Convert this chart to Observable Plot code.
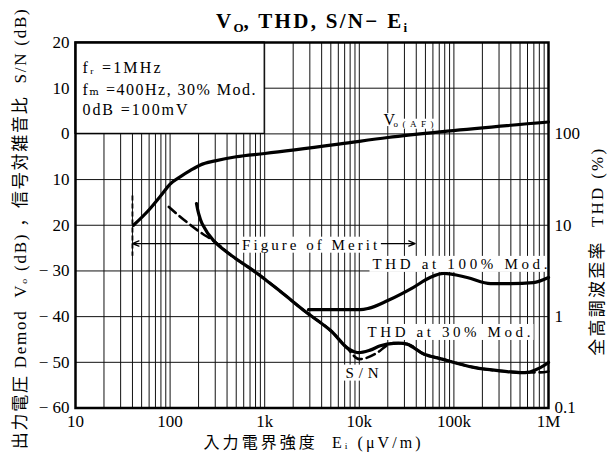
<!DOCTYPE html>
<html><head><meta charset="utf-8">
<script src="https://cdn.jsdelivr.net/npm/d3@7"></script>
<script src="https://cdn.jsdelivr.net/npm/@observablehq/plot@0.6"></script>
<style>
body{margin:0;background:#fff;}
#wrap{position:relative;width:609px;height:456px;}
#title{position:absolute;left:75px;width:473px;top:9px;text-align:center;font:bold 21px "Liberation Serif","DejaVu Serif",serif;letter-spacing:2.3px;color:#000;}
#title sub{font-size:13px;vertical-align:baseline;position:relative;top:4px;letter-spacing:0;}
</style></head><body>
<div id="wrap"><div id="chart"></div><div id="title">V<sub>O</sub>, THD, S/N− E<sub>i</sub></div></div>
<script>
// ---- data (x: input field strength, µV/m) ----
const voX  = [41, 60, 80, 100, 130, 164, 209, 300, 500, 1000, 6300, 20000, 85000, 1000000];
const voDb = [-20, -16.6, -13.5, -11.0, -9.3, -8.0, -6.8, -5.9, -5.0, -4.3, -2.2, -0.8, 0.6, 2.6];

const snX  = [97, 150, 218, 288, 435, 834, 1470, 2800, 5000, 7450, 10000, 15500, 20000, 23000, 32000, 48000, 73000, 162000, 310000, 595000, 820000, 1000000];
const snDb = [-16, -19.3, -21.8, -23.4, -26.5, -30.5, -34.5, -39.2, -43.1, -46.9, -49.3, -47.9, -46.2, -45.8, -46.0, -48.2, -49.2, -51.1, -51.9, -52.2, -52.2, -52.0];

const thd30X   = [190, 200, 218, 288, 435, 834, 1470, 2800, 5000, 7450, 9500, 13000, 16700, 23000, 32000, 48000, 73000, 162000, 310000, 595000, 820000, 1000000];
const thd30Pct = [17.3, 13.5, 10.4, 6.8, 4.75, 2.97, 1.88, 1.1, 0.70, 0.455, 0.405, 0.43, 0.48, 0.51, 0.50, 0.39, 0.345, 0.278, 0.255, 0.245, 0.277, 0.315];

const thd100X   = [2900, 10300, 12500, 20000, 37000, 56000, 78000, 138000, 244000, 398000, 690000, 1000000];
const thd100Pct = [1.19, 1.19, 1.23, 1.5, 2.08, 2.68, 2.97, 2.68, 2.3, 2.3, 2.36, 2.68];

// figure of merit range
const fomFrom = 40, fomTo = 39000, fomMid = 3000, fomLevel = -24;

// ticks
const xTicks = [10, 100, 1000, 10000, 100000, 1000000];
const xTickLabels = ["10", "100", "1k", "10k", "100k", "1M"];
const yTicks = [20, 10, 0, -10, -20, -30, -40, -50, -60];
const yTickLabels = ["20", "10", "0", "10", "20", "− 30", "− 40", "− 50", "− 60"];
const thdTicks = [100, 10, 1, 0.1];
const thdTickLabels = ["100", "10", "1", "0.1"];

const conditions = ["fᵣ =1MHz", "fₘ =400Hz, 30% Mod.", "0dB =100mV"];
const curveLabels = ["THD at 100% Mod.", "THD at 30% Mod.", "S/N", "Figure of Merit"];

const xLabel = "入力電界強度  Eᵢ (μV/m)";
const yLabel = "出力電圧 Demod  Vₒ (dB) ，信号対雑音比  S/N (dB)";
const y2Label = "全高調波歪率  THD (%)";

// ---- helpers ----
const thdToDb = p => 20 * Math.log10(p) - 40;   // 100% ↔ 0 dB, 0.1% ↔ -60 dB
const zip = (xs, ys) => xs.map((x, i) => ({x, y: ys[i]}));
const vo = zip(voX, voDb);
const sn = zip(snX, snDb);
const thd30 = zip(thd30X, thd30Pct.map(thdToDb));
const thd100 = zip(thd100X, thd100Pct.map(thdToDb));
const thdTickPos = thdTicks.map(thdToDb);

const xGrid = [];
for (const d of [10, 100, 1000, 10000, 100000]) for (let m = 1; m < 10; m++) xGrid.push(m * d);
xGrid.push(1000000);
const yGrid = d3.range(-60, 21, 10);

// annotation anchors
const condAnn = conditions.map((t, i) => ({t, x: 11.86, y: [14.5, 9.7, 5.35][i]}));
const labelAnn = [
  {t: curveLabels[0], x: 116000, y: -28.5},
  {t: curveLabels[1], x: 88700, y: -43.4},
  {t: curveLabels[2], x: 10700, y: -52.3},
  {t: curveLabels[3], x: 2980, y: -24.3}
];

const serif = '"Liberation Serif","DejaVu Serif","Noto Sans CJK JP",serif';

const chart = Plot.plot({
  width: 609, height: 456,
  marginLeft: 75, marginRight: 61, marginTop: 42, marginBottom: 48.5,
  style: {fontFamily: serif, fontSize: "17px", color: "#000", background: "#fff", overflow: "visible"},
  x: {type: "log", domain: [10, 1000000]},
  y: {domain: [-60, 20]},
  marks: [
    Plot.ruleX(xGrid, {stroke: "#111", strokeWidth: 1}),
    Plot.ruleY(yGrid, {stroke: "#111", strokeWidth: 1}),
    Plot.rect([{x1: 10, x2: 1000, y1: 0, y2: 20}], {x1: "x1", x2: "x2", y1: "y1", y2: "y2", fill: "#fff", stroke: "#000", strokeWidth: 1.2}),
    Plot.ruleX([fomFrom], {y1: -13.6, y2: -26.8, stroke: "#000", strokeWidth: 1.8, strokeDasharray: "5,3"}),
    Plot.arrow([{a: fomMid, b: fomFrom}, {a: fomMid, b: fomTo}], {x1: "a", x2: "b", y1: () => fomLevel, y2: () => fomLevel, stroke: "#000", strokeWidth: 1.3, headLength: 8, headAngle: 45}),
    Plot.line(sn, {x: "x", y: "y", curve: "monotone-x", stroke: "#000", strokeWidth: 2.6, strokeDasharray: "9,5"}),
    Plot.line(vo, {x: "x", y: "y", curve: "monotone-x", stroke: "#000", strokeWidth: 3.2}),
    Plot.line(thd30, {x: "x", y: "y", curve: "catmull-rom", stroke: "#000", strokeWidth: 3.2}),
    Plot.line(thd100, {x: "x", y: "y", curve: "monotone-x", stroke: "#000", strokeWidth: 3.2}),
    Plot.text(labelAnn, {x: "x", y: "y", text: "t", fontSize: 15, textAnchor: "middle", lineAnchor: "middle", fill: "#000"}),
    Plot.text(condAnn, {x: "x", y: "y", text: "t", fontSize: 16, textAnchor: "start", lineAnchor: "middle", fill: "#000"}),
    Plot.text([{t: "V", x: 18000, y: 3.05}], {x: "x", y: "y", text: "t", fontSize: 16, textAnchor: "start", lineAnchor: "middle"}),
    Plot.text([{t: "o(AF)", x: 23000, y: 2.2}], {x: "x", y: "y", text: "t", fontSize: 9, textAnchor: "start", lineAnchor: "middle"}),
    Plot.axisX({ticks: xTicks, tickFormat: d => xTickLabels[xTicks.findIndex(v => Math.abs(v - d) < 1e-6 * v)], tickSize: 0, tickPadding: 7, fontSize: 17, label: null}),
    Plot.axisY({ticks: yTicks, tickFormat: d => yTickLabels[yTicks.indexOf(d)], tickSize: 0, tickPadding: 6, fontSize: 17, label: null}),
    Plot.axisY({anchor: "right", ticks: thdTickPos, tickFormat: d => thdTickLabels[thdTickPos.findIndex(v => Math.abs(v - d) < 1e-6)], tickSize: 0, tickPadding: 6, fontSize: 17, label: null}),
    Plot.text([xLabel], {text: d => d, frameAnchor: "bottom", dy: 35, fontSize: 16, textAnchor: "middle", lineAnchor: "middle"}),
    Plot.text([yLabel], {text: d => d, frameAnchor: "left", dx: -55, dy: 4, rotate: -90, fontSize: 17, textAnchor: "middle", lineAnchor: "middle"}),
    Plot.text([y2Label], {text: d => d, frameAnchor: "right", dx: 49, dy: 27, rotate: -90, fontSize: 17, textAnchor: "middle", lineAnchor: "middle"}),
    Plot.frame({stroke: "#000", strokeWidth: 2.5})
  ]
});
document.getElementById("chart").append(chart);

const allTexts = [...chart.querySelectorAll("text")];
function fit(str, width, boxed, padX = 3, padY = 0) {
  const t = allTexts.find(e => e.textContent === str);
  if (!t) return;
  if (width) { t.setAttribute("textLength", width); t.setAttribute("lengthAdjust", "spacing"); }
  if (boxed) {
    const b = t.getBBox();
    const r = document.createElementNS("http://www.w3.org/2000/svg", "rect");
    r.setAttribute("x", b.x - padX); r.setAttribute("y", b.y - padY);
    r.setAttribute("width", b.width + 2 * padX); r.setAttribute("height", b.height + 2 * padY);
    r.setAttribute("fill", "#fff");
    const tr = t.getAttribute("transform"); if (tr) r.setAttribute("transform", tr);
    t.parentNode.insertBefore(r, t);
  }
}
fit(curveLabels[0], 175, true);
fit(curveLabels[1], 163, true);
fit(curveLabels[2], 33, true);
fit(curveLabels[3], 135, true);
fit(conditions[0], 78, false);
fit(conditions[1], 173, false);
fit(conditions[2], 105, false);
fit("V", null, true, 1, -2);
fit("o(AF)", 40, true, 1, 0);
fit(xLabel, 217, false);
fit(yLabel, 440, false);
fit(y2Label, 207, false);
</script>
</body></html>
